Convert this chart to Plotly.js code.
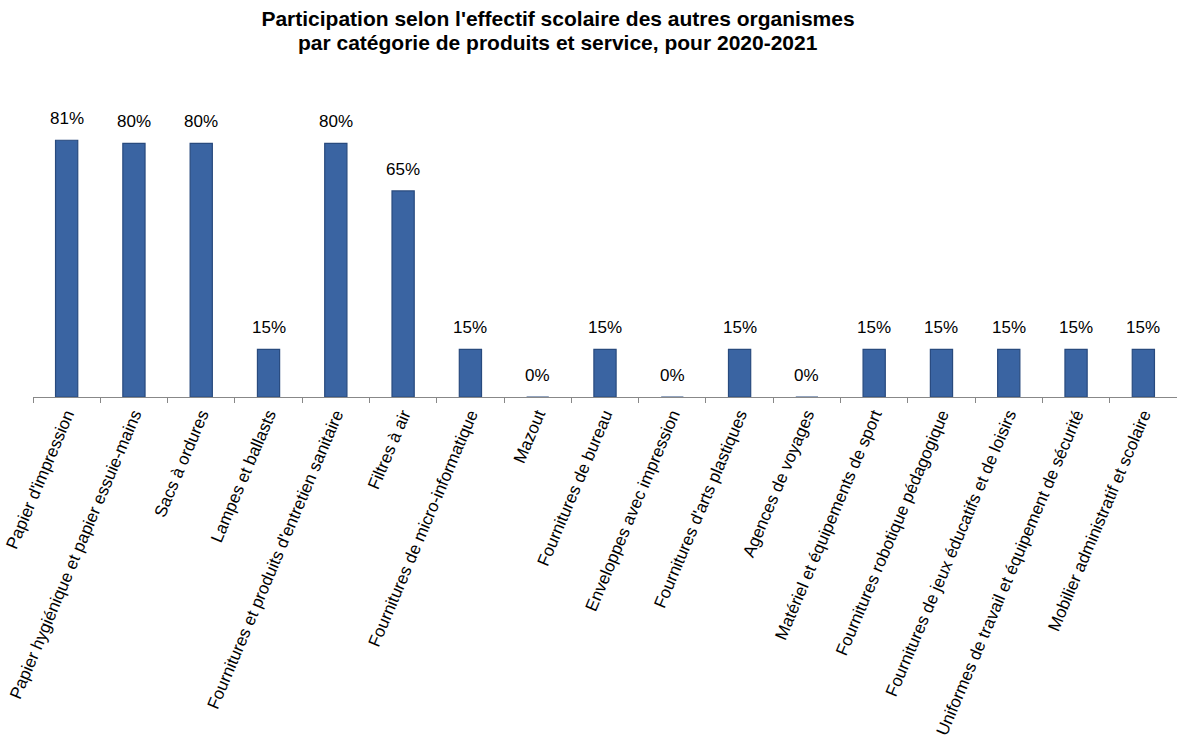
<!DOCTYPE html>
<html><head><meta charset="utf-8">
<script src="https://cdn.plot.ly/plotly-3.0.1.min.js"></script>
<style>html,body{margin:0;padding:0;background:#fff}</style>
</head><body>
<div id="chart" style="width:1177px;height:743px"></div>
<script>
const titleLine1 = "Participation selon l'effectif scolaire des autres organismes";
const titleLine2 = "par catégorie de produits et service, pour 2020-2021";
const categories = [
  "Papier d'impression",
  "Papier hygiénique et papier essuie-mains",
  "Sacs à ordures",
  "Lampes et ballasts",
  "Fournitures et produits d'entretien sanitaire",
  "Filtres à air",
  "Fournitures de micro-informatique",
  "Mazout",
  "Fournitures de bureau",
  "Enveloppes avec impression",
  "Fournitures d'arts plastiques",
  "Agences de voyages",
  "Matériel et équipements de sport",
  "Fournitures robotique pédagogique",
  "Fournitures de jeux éducatifs et de loisirs",
  "Uniformes de travail et équipement de sécurité",
  "Mobilier administratif et scolaire"
];
const participation = [81, 80, 80, 15, 80, 65, 15, 0, 15, 0, 15, 0, 15, 15, 15, 15, 15];

const FONT = 'Liberation Sans, Arial, sans-serif';
const W = 1177, H = 743;
const M = {l: 33, r: 0, t: 100, b: 346};
const plotW = W - M.l - M.r, plotH = H - M.t - M.b;
const titleCenterX = 558;

const trace = {
  type: 'bar',
  x: categories,
  y: participation,
  width: 0.33,
  marker: {color: '#3A64A2', line: {color: '#284A7E', width: 1.2}},
  hoverinfo: 'x+y'
};

const labelAnnotations = categories.map((c, i) => ({
  x: c, y: participation[i], xref: 'x', yref: 'y',
  text: participation[i] + '%',
  showarrow: false, yanchor: 'bottom', yshift: 10,
  font: {family: FONT, size: 17, color: '#000'}
}));

const layout = {
  width: W, height: H,
  margin: M,
  paper_bgcolor: '#fff', plot_bgcolor: '#fff',
  showlegend: false,
  font: {family: FONT, color: '#000'},
  title: {
    text: '<b>' + titleLine1 + '</b>',
    font: {size: 21, family: FONT, color: '#000'},
    xref: 'container', x: titleCenterX / W, xanchor: 'center',
    yref: 'container', y: 1 - 11 / H, yanchor: 'top',
    pad: {t: 0, b: 0, l: 0, r: 0}
  },
  annotations: [{
    text: '<b>' + titleLine2 + '</b>',
    xref: 'paper', yref: 'paper',
    x: (titleCenterX - M.l) / plotW,
    y: 1 + (M.t - 29) / plotH,
    showarrow: false, xanchor: 'center', yanchor: 'top',
    font: {size: 21, family: FONT, color: '#000'}
  }].concat(labelAnnotations),
  xaxis: {
    type: 'category',
    tickson: 'boundaries',
    ticks: 'outside', ticklen: 5, tickcolor: '#888', tickwidth: 1,
    showline: true, linecolor: '#888', linewidth: 1,
    tickangle: -67,
    tickfont: {size: 17, family: FONT, color: '#000'},
    automargin: false,
    showgrid: false
  },
  yaxis: {
    range: [0, 93.7],
    visible: false,
    showgrid: false, zeroline: false,
    automargin: false
  }
};

Plotly.newPlot('chart', [trace], layout, {displayModeBar: false, staticPlot: true});
</script>
</body></html>
